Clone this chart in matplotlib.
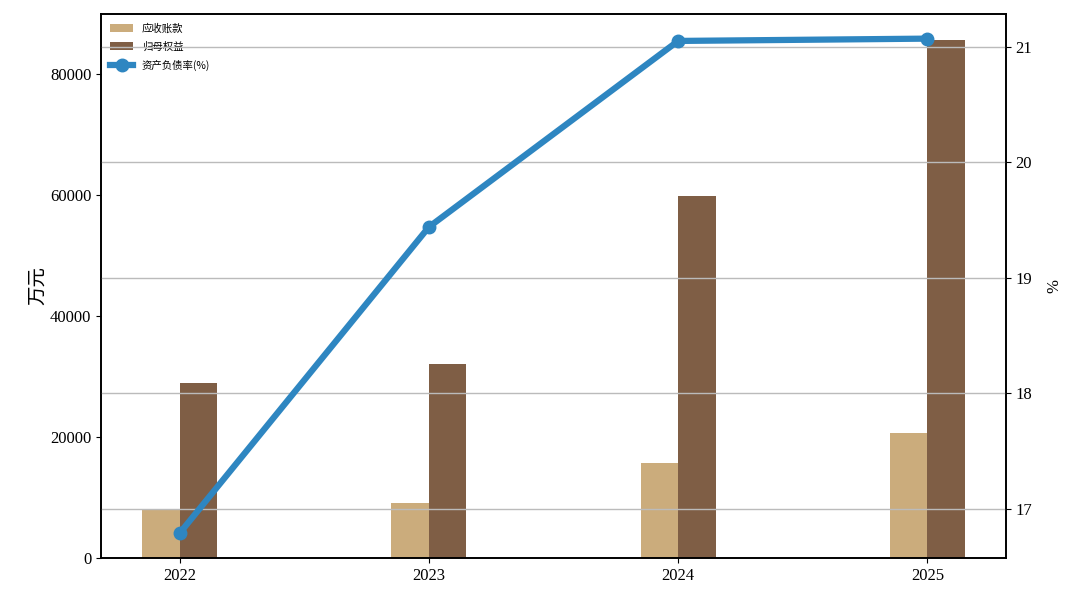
import matplotlib
matplotlib.use("Agg")
import matplotlib.pyplot as plt
from matplotlib.ticker import MultipleLocator
import numpy as np

plt.rcParams['font.family'] = ['Liberation Serif', 'Noto Sans CJK SC']

years = ["2022", "2023", "2024", "2025"]
receivables = [7900, 9050, 15700, 20650]
equity = [28900, 32000, 59900, 85650]
debt_ratio = [16.79, 19.44, 21.05, 21.07]

x = np.arange(len(years))
w = 0.15

fig, ax1 = plt.subplots(figsize=(10.8, 6.04), dpi=100)
fig.subplots_adjust(left=0.0935, right=0.9315, top=0.977, bottom=0.076)

b1 = ax1.bar(x - w/2, receivables, w, color="#CBAC7C", label="应收账款")
b2 = ax1.bar(x + w/2, equity, w, color="#7F5E45", label="归母权益")
ax1.set_ylabel("万元", fontsize=14, labelpad=2)
ax1.set_xticks(x)
ax1.set_xticklabels(years)
ax1.yaxis.set_major_locator(MultipleLocator(20000))
ax1.tick_params(labelsize=12)

ax2 = ax1.twinx()
l1, = ax2.plot(x, debt_ratio, color="#2E86C1", lw=4.5, marker="o", ms=9, label="资产负债率(%)")
ax2.set_ylabel("%", fontsize=12, labelpad=10)
ax2.tick_params(labelsize=12)
ax2.grid(axis="y", color="#bbbbbb", lw=1)
ax2.set_axisbelow(True)

for a in (ax1, ax2):
    for s in a.spines.values():
        s.set_linewidth(1.2)

ax1.legend([b1, b2, l1], ["应收账款", "归母权益", "资产负债率(%)"], loc="upper left",
           frameon=False, labelspacing=0.75, handlelength=2.2,
           prop={'family': ['Noto Sans CJK SC'], 'size': 7.5})

plt.savefig("out.png")
